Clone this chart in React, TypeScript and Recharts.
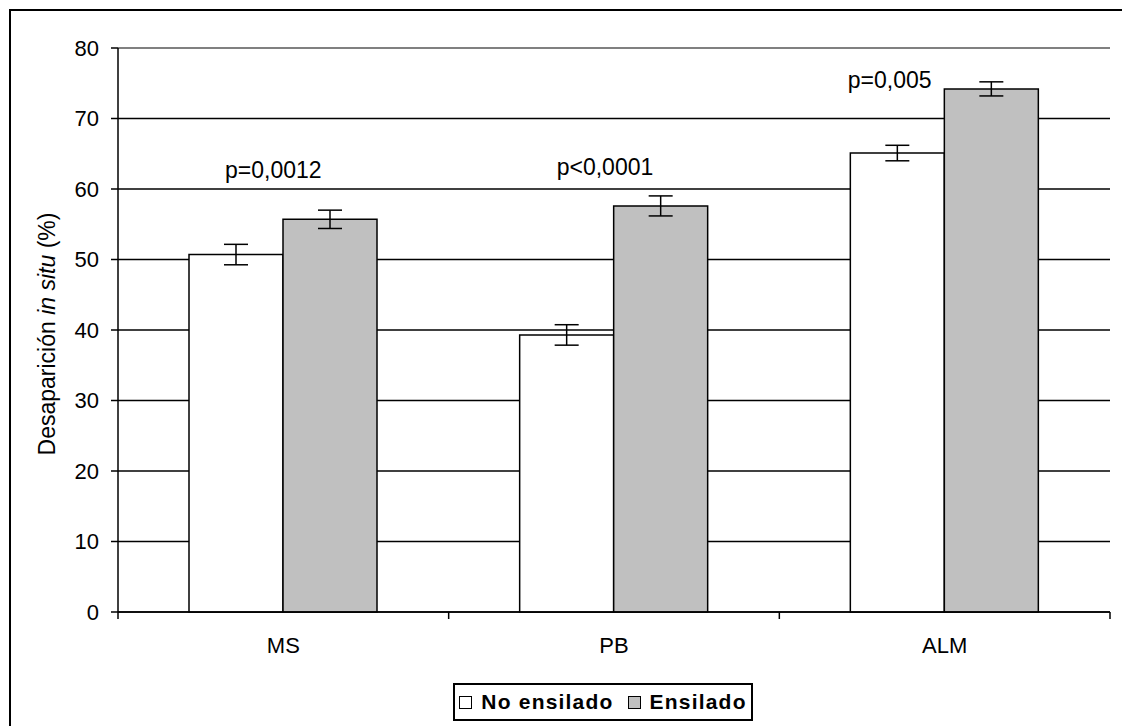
import React from 'react';
import {
  BarChart,
  Bar,
  XAxis,
  YAxis,
  CartesianGrid,
  ErrorBar,
  ReferenceLine,
  ReferenceDot,
} from 'recharts';

const categories = ['MS', 'PB', 'ALM'];
const noEnsilado = [50.7, 39.3, 65.1];
const noEnsiladoErr = [1.45, 1.45, 1.1];
const ensilado = [55.7, 57.6, 74.2];
const ensiladoErr = [1.3, 1.42, 1.0];
const pLabels = ['p=0,0012', 'p<0,0001', 'p=0,005'];
const yTicks = [0, 10, 20, 30, 40, 50, 60, 70, 80];

// where the p labels sit (y in axis units, x offset in px from category centre)
const pLabelY = [61.6, 62.0, 74.3];
const pLabelDx = [-10, -9, -55];

const data = categories.map((cat, i) => ({
  cat,
  no: noEnsilado[i],
  noErr: noEnsiladoErr[i],
  ens: ensilado[i],
  ensErr: ensiladoErr[i],
}));

const FONT = 'Arial, "Liberation Sans", sans-serif';
const W = 1122;
const H = 726;
const PLOT_LEFT = 118;
const PLOT_RIGHT = 1110;
const PLOT_BOTTOM = 612;
const X_AXIS_H = 30;
const BAND = (PLOT_RIGHT - PLOT_LEFT) / categories.length;

const XTick = (props: any) => {
  const { x, y, payload, index } = props;
  const left = x - BAND / 2;
  return (
    <g>
      <line x1={left} x2={left} y1={y} y2={y + 7} stroke="#000" strokeWidth={1.5} />
      {index === categories.length - 1 && (
        <line x1={x + BAND / 2} x2={x + BAND / 2} y1={y} y2={y + 7} stroke="#000" strokeWidth={1.5} />
      )}
      <text x={x} y={y + 41} textAnchor="middle" fontFamily={FONT} fontSize={22} fill="#000">
        {payload.value}
      </text>
    </g>
  );
};

const YTick = (props: any) => {
  const { y, payload } = props;
  return (
    <text x={99} y={y} textAnchor="end" dominantBaseline="central" fontFamily={FONT} fontSize={22} fill="#000">
      {payload.value}
    </text>
  );
};

const YLabel = () => (
  <text
    x={47}
    y={334}
    transform="rotate(-90 47 334)"
    textAnchor="middle"
    dominantBaseline="central"
    fontFamily={FONT}
    fontSize={23}
    fill="#000"
  >
    Desaparición <tspan fontStyle="italic">in situ</tspan> (%)
  </text>
);

const Legend = () => (
  <div
    style={{
      position: 'absolute',
      left: 453,
      top: 683,
      width: 300,
      height: 38,
      border: '2px solid #000',
      boxSizing: 'border-box',
      background: '#fff',
      display: 'flex',
      alignItems: 'center',
      justifyContent: 'center',
      fontFamily: FONT,
      fontWeight: 'bold',
      fontSize: 21,
      letterSpacing: 1.2,
      color: '#000',
    }}
  >
    <span style={{ width: 11, height: 11, border: '1.5px solid #000', background: '#fff', marginRight: 9 }} />
    <span style={{ marginRight: 14 }}>No ensilado</span>
    <span style={{ width: 11, height: 11, border: '1.5px solid #000', background: '#C0C0C0', marginRight: 9 }} />
    <span>Ensilado</span>
  </div>
);

export default function App() {
  return (
    <div style={{ position: 'absolute', left: 0, top: 0, width: W, height: H, overflow: 'hidden', background: '#fff' }}>
      <div
        style={{
          position: 'absolute',
          left: 9,
          top: 9,
          width: W + 20,
          height: H + 20,
          border: '2px solid #000',
        }}
      />
      <div style={{ position: 'absolute', left: 0, top: 0 }}>
        <BarChart
          width={W}
          height={H}
          data={data}
          margin={{ top: 48, right: W - PLOT_RIGHT, bottom: H - PLOT_BOTTOM - X_AXIS_H, left: 0 }}
          barSize={94}
          barGap={0}
        >
          <CartesianGrid yAxisId="left" vertical={false} stroke="#000" strokeWidth={1.5} />
          <XAxis
            dataKey="cat"
            height={X_AXIS_H}
            tick={<XTick />}
            tickLine={false}
            tickSize={0}
            tickMargin={0}
            axisLine={{ stroke: '#000', strokeWidth: 1.5 }}
            interval={0}
          />
          <YAxis
            yAxisId="left"
            width={PLOT_LEFT}
            domain={[0, 80]}
            ticks={yTicks}
            tick={<YTick />}
            tickSize={7}
            tickLine={{ stroke: '#000', strokeWidth: 1.5 }}
            axisLine={{ stroke: '#000', strokeWidth: 1.5 }}
            label={<YLabel />}
          />
          <YAxis
            yAxisId="right"
            orientation="right"
            width={0}
            domain={[0, 80]}
            tick={false}
            tickLine={false}
            axisLine={{ stroke: '#808080', strokeWidth: 2 }}
          />
          <ReferenceLine yAxisId="left" y={80} stroke="#808080" strokeWidth={2} />
          <Bar yAxisId="left" dataKey="no" fill="#fff" stroke="#000" strokeWidth={1.5} isAnimationActive={false}>
            <ErrorBar dataKey="noErr" width={12} stroke="#000" strokeWidth={1.5} />
          </Bar>
          <Bar yAxisId="left" dataKey="ens" fill="#C0C0C0" stroke="#000" strokeWidth={1.5} isAnimationActive={false}>
            <ErrorBar dataKey="ensErr" width={12} stroke="#000" strokeWidth={1.5} />
          </Bar>
          {categories.map((cat, i) => (
            <ReferenceDot
              key={cat}
              yAxisId="left"
              x={cat}
              y={pLabelY[i]}
              r={0}
              shape={(p: any) => (
                <text
                  x={p.cx + pLabelDx[i]}
                  y={p.cy}
                  textAnchor="middle"
                  fontFamily={FONT}
                  fontSize={23}
                  fill="#000"
                >
                  {pLabels[i]}
                </text>
              )}
            />
          ))}
        </BarChart>
      </div>
      <Legend />
    </div>
  );
}
